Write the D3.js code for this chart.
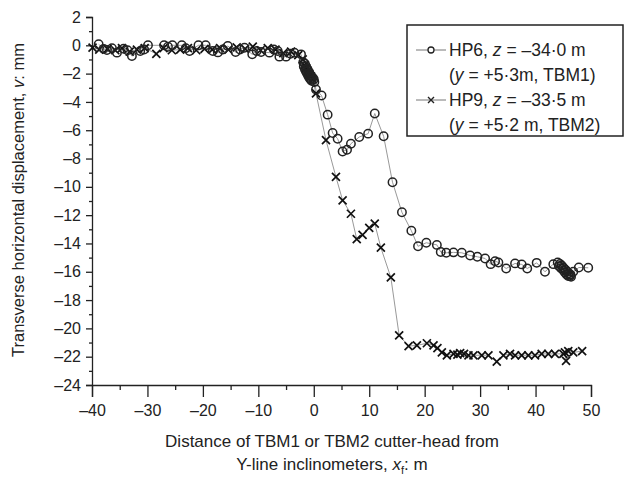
<!DOCTYPE html>
<html>
<head>
<meta charset="utf-8">
<script src="https://cdn.jsdelivr.net/npm/d3@7"></script>
<style>
  body { margin: 0; background: #fff; }
  svg { font-family: "Liberation Sans", Arial, sans-serif; }
</style>
</head>
<body>
<svg id="chart"></svg>
<script>
// HP6 (circles)
const hp6X = [-38.8, -37.9, -37.3, -36.4, -35.5, -34.3, -33.6, -32.8, -31.3, -30.6, -29.9, -27.0, -26.3, -25.5, -23.8, -23.1, -22.4, -20.8, -19.5, -18.2, -17.3, -16.4, -15.5, -14.1, -13.3, -12.5, -11.1, -10.3, -9.5, -8.0, -7.2, -6.5, -6.2, -5.0, -4.2, -3.5, -2.3,
  -1.9, -1.6, -1.8, -1.4, -1.6, -1.2, -1.4, -1.0, -1.2, -0.8, -1.0, -0.6, -0.8, -0.4, -0.6, -0.2, -0.4, 0.0, 0.1,
  0.4, 1.4, 2.5, 3.4, 4.3, 5.2, 6.0, 6.7, 8.2, 9.8, 11.0, 12.6, 14.2, 15.9, 17.6, 18.8, 20.3, 22.2, 22.9, 23.9, 25.2, 26.7, 28.2, 29.5, 30.9, 31.9, 32.7, 33.3, 34.7, 36.3, 37.5, 38.5, 40.2, 41.7, 43.2,
  44.0, 44.4, 44.2, 44.7, 44.6, 45.0, 45.0, 45.4, 45.3, 45.7, 45.6, 46.0, 45.9, 46.3, 46.4, 46.2, 46.8, 47.8, 49.5];
const hp6Y = [0.07, -0.25, -0.33, -0.2, -0.52, -0.24, -0.35, -0.76, -0.40, -0.3, 0.0, 0.0, -0.1, 0.0, 0.0, -0.2, -0.4, 0.0, 0.0, -0.4, -0.5, -0.3, -0.05, -0.47, -0.3, -0.17, -0.64, -0.4, -0.47, -0.52, -0.3, -0.4, -0.8, -0.8, -0.6, -0.52, -0.64,
  -1.2, -1.3, -1.5, -1.5, -1.7, -1.65, -1.85, -1.8, -2.0, -1.95, -2.15, -2.1, -2.3, -2.2, -2.4, -2.3, -2.5, -2.4, -2.6,
  -3.12, -3.55, -4.9, -6.2, -6.6, -7.5, -7.38, -6.95, -6.48, -6.24, -4.82, -6.43, -9.67, -11.8, -13.1, -14.2, -13.95, -14.1, -14.6, -14.66, -14.63, -14.66, -14.85, -14.94, -15.06, -15.46, -15.25, -15.34, -15.77, -15.41, -15.48, -15.77, -15.37, -16.0, -15.46,
  -15.35, -15.45, -15.6, -15.55, -15.75, -15.7, -15.9, -15.85, -16.05, -16.0, -16.2, -16.1, -16.3, -16.2, -16.35, -16.3, -16.0, -15.7, -15.72];

// HP9 (crosses)
const hp9X = [-39.9, -38.7, -37.2, -35.8, -34.6, -33.2, -31.9, -30.5, -28.4, -27.1, -25.6, -24.1, -22.7, -21.2, -19.7, -18.3, -16.9, -15.4, -13.9, -12.4, -11.0, -9.6, -8.3, -6.9, -5.5, -4.1, -2.8, -2.0,
  -1.7, -1.4, -1.1, -0.8, -0.5, -0.2,
  0.4, 2.2, 4.0, 5.2, 6.7, 7.75, 8.8, 10.0, 11.0, 12.1, 13.9, 15.4, 17.1, 18.6, 20.4, 21.6, 22.3, 23.1, 24.0, 25.2, 25.9, 26.4, 27.1, 27.9, 28.8, 30.3, 31.5, 33.0, 34.2, 35.4, 36.3, 37.5, 38.7, 39.9, 41.1, 42.3, 43.5, 45.0, 45.3, 45.5, 45.9, 46.8, 48.4];
const hp9Y = [-0.17, -0.3, -0.25, -0.35, -0.2, -0.45, -0.3, -0.2, -0.6, -0.2, -0.35, -0.3, -0.2, -0.35, -0.25, -0.3, -0.2, -0.3, -0.15, -0.25, -0.1, -0.35, -0.2, -0.3, -0.55, -0.45, -0.7, -1.0,
  -1.4, -1.6, -1.8, -2.0, -2.2, -2.4,
  -3.4, -6.7, -9.3, -10.95, -11.9, -13.7, -13.4, -12.9, -12.6, -14.3, -16.4, -20.5, -21.25, -21.2, -21.05, -21.2, -21.4, -21.7, -21.9, -21.8, -21.85, -21.75, -21.8, -21.9, -21.9, -21.9, -21.9, -22.35, -21.9, -21.8, -21.9, -21.9, -21.9, -21.9, -21.8, -21.8, -21.8, -21.8, -21.7, -22.3, -21.6, -21.7, -21.6];

const xTicks = [-40, -30, -20, -10, 0, 10, 20, 30, 40, 50];
const yTicks = [2, 0, -2, -4, -6, -8, -10, -12, -14, -16, -18, -20, -22, -24];

const width = 632, height = 479;
const svg = d3.select("#chart").attr("width", width).attr("height", height);

const x = d3.scaleLinear().domain([-40, 50]).range([92, 591]);
const y = d3.scaleLinear().domain([-24, 2]).range([385, 17]);

const fmt = d => d < 0 ? "\u2013" + Math.abs(d) : String(d);

// y axis, major + minor ticks
svg.append("g")
  .attr("transform", `translate(${x(-40)},0)`)
  .call(d3.axisLeft(y).tickValues(yTicks).tickSize(6).tickPadding(5).tickFormat(fmt));
svg.append("g")
  .attr("transform", `translate(${x(-40)},0)`)
  .call(d3.axisLeft(y).tickValues(d3.range(-23, 2, 2)).tickSize(3).tickFormat(""))
  .select(".domain").remove();

// x axis sits on the -24 line
svg.append("g")
  .attr("transform", `translate(0,${y(-24)})`)
  .call(d3.axisBottom(x).tickValues(xTicks).tickSize(12).tickPadding(8).tickFormat(fmt));
svg.append("g")
  .attr("transform", `translate(0,${y(-24)})`)
  .call(d3.axisBottom(x).tickValues(d3.range(-35, 50, 10)).tickSize(5).tickFormat(""))
  .select(".domain").remove();

svg.selectAll(".domain, .tick line").attr("stroke", "#222").attr("stroke-width", 1.3);
svg.selectAll(".tick text").attr("font-size", 16).attr("fill", "#222")
  .attr("font-family", "Liberation Sans, Arial, sans-serif");

// axis titles
const yt = svg.append("text")
  .attr("transform", "translate(24,200) rotate(-90)")
  .attr("text-anchor", "middle").attr("font-size", 16.5).attr("fill", "#222");
yt.append("tspan").text("Transverse horizontal displacement, ");
yt.append("tspan").attr("font-style", "italic").text("v");
yt.append("tspan").text(": mm");

svg.append("text").attr("x", 332).attr("y", 447)
  .attr("text-anchor", "middle").attr("font-size", 17).attr("fill", "#222")
  .text("Distance of TBM1 or TBM2 cutter-head from");
const xt2 = svg.append("text").attr("x", 332).attr("y", 470)
  .attr("text-anchor", "middle").attr("font-size", 17).attr("fill", "#222");
xt2.append("tspan").text("Y-line inclinometers, ");
xt2.append("tspan").attr("font-style", "italic").text("x");
xt2.append("tspan").attr("font-size", 11).attr("dy", 4).text("f");
xt2.append("tspan").attr("dy", -4).text(": m");

// series
const hp6 = hp6X.map((d, i) => ({ x: d, y: hp6Y[i] }));
const hp9 = hp9X.map((d, i) => ({ x: d, y: hp9Y[i] }));
const line = d3.line().x(d => x(d.x)).y(d => y(d.y));

svg.append("path").datum(hp9).attr("d", line)
  .attr("fill", "none").attr("stroke", "#999").attr("stroke-width", 1);
svg.append("path").datum(hp6).attr("d", line)
  .attr("fill", "none").attr("stroke", "#999").attr("stroke-width", 1);

const cross = "M-4,-4L4,4M-4,4L4,-4";
svg.append("g").selectAll("path").data(hp9).join("path")
  .attr("transform", d => `translate(${x(d.x)},${y(d.y)})`)
  .attr("d", cross).attr("stroke", "#111").attr("stroke-width", 1.7).attr("fill", "none");

svg.append("g").selectAll("circle").data(hp6).join("circle")
  .attr("cx", d => x(d.x)).attr("cy", d => y(d.y)).attr("r", 4.2)
  .attr("fill", "none").attr("stroke", "#222").attr("stroke-width", 1.5);

// legend
const lg = svg.append("g");
lg.append("rect").attr("x", 407).attr("y", 25).attr("width", 216).attr("height", 111)
  .attr("fill", "#fff").attr("stroke", "#222").attr("stroke-width", 1.5);
const rows = [
  { yy: 50, mark: "circle", parts: [["HP6, ", false], ["z", true], [" = \u201334\u00b70 m", false]] },
  { yy: 75, mark: null, parts: [["(", false], ["y", true], [" = +5\u00b73m, TBM1)", false]] },
  { yy: 100, mark: "cross", parts: [["HP9, ", false], ["z", true], [" = \u201333\u00b75 m", false]] },
  { yy: 125, mark: null, parts: [["(", false], ["y", true], [" = +5\u00b72 m, TBM2)", false]] }
];
rows.forEach(r => {
  if (r.mark) {
    lg.append("line").attr("x1", 416).attr("x2", 446).attr("y1", r.yy).attr("y2", r.yy)
      .attr("stroke", "#777").attr("stroke-width", 1);
    if (r.mark === "circle") {
      lg.append("circle").attr("cx", 431).attr("cy", r.yy).attr("r", 3)
        .attr("fill", "#fff").attr("stroke", "#222").attr("stroke-width", 1.3);
    } else {
      lg.append("path").attr("transform", `translate(431,${r.yy})`)
        .attr("d", "M-3,-3L3,3M-3,3L3,-3").attr("stroke", "#222").attr("stroke-width", 1.4);
    }
  }
  const t = lg.append("text").attr("x", 449).attr("y", r.yy + 6).attr("font-size", 17.5).attr("fill", "#222");
  r.parts.forEach(p => t.append("tspan").attr("font-style", p[1] ? "italic" : null).text(p[0]));
});
</script>
</body>
</html>
